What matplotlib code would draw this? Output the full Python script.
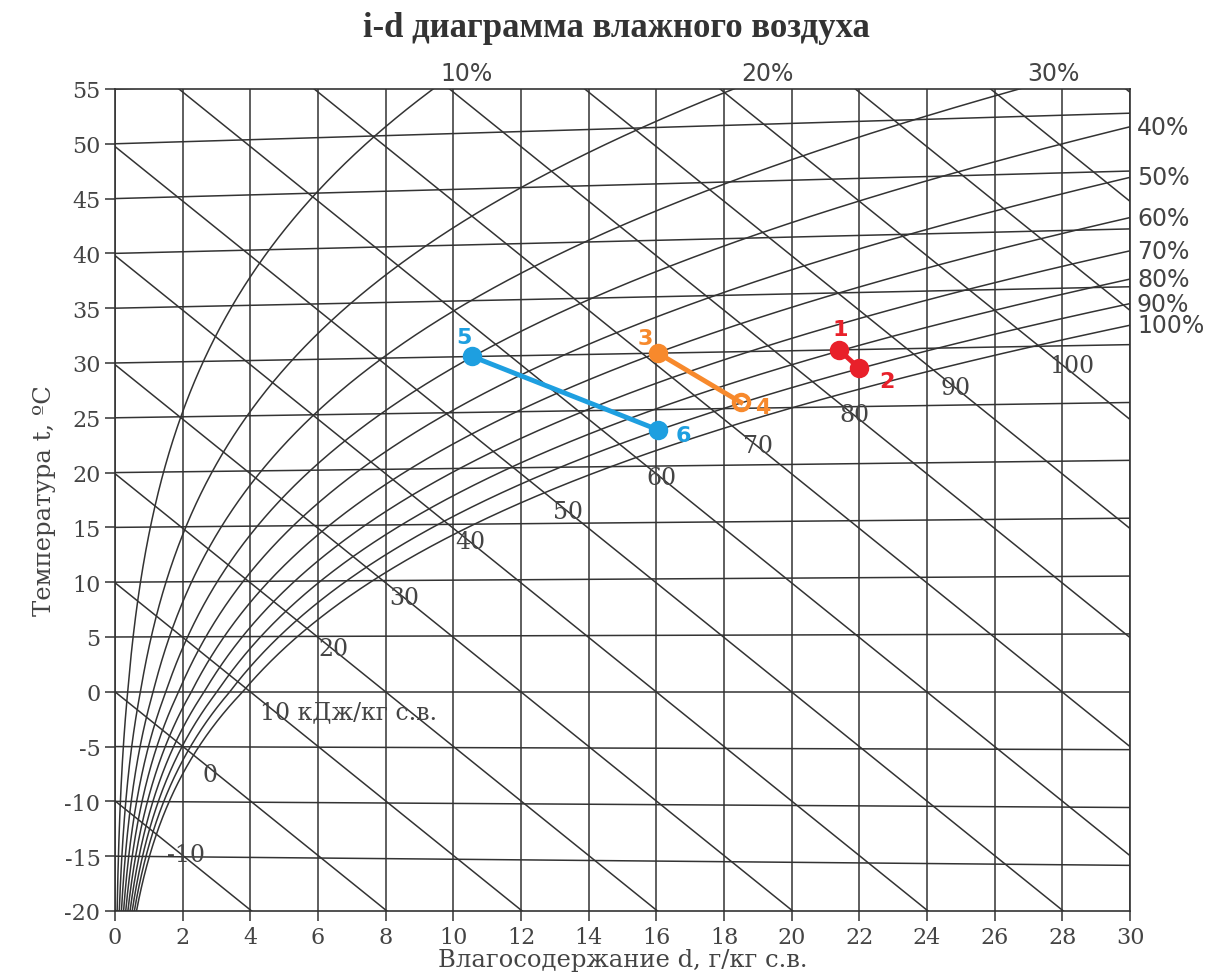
import numpy as np
import matplotlib
matplotlib.use('Agg')
import matplotlib.pyplot as plt

# Линии диаграммы
phi_levels = [10, 20, 30, 40, 50, 60, 70, 80, 90, 100]   # отн. влажность, %
i_levels = list(range(-20, 140, 10))                     # энтальпия, кДж/кг с.в.
t_levels = list(range(-20, 60, 5))                       # изотермы, °C
i_label_values = ['-10', '0', '10 кДж/кг с.в.', '20', '30', '40', '50', '60', '70', '80', '90', '100']
i_label_i = [-10, 0, 10, 20, 30, 40, 50, 60, 70, 80, 90, 100]
i_label_d = [1.55, 2.6, 4.3, 6.0, 8.1, 10.05, 12.95, 15.7, 18.55, 21.4, 24.4, 27.6]

# Точки процесса
point_names = ['1', '2', '3', '4', '5', '6']
point_d = [21.4, 22.0, 16.05, 18.5, 10.55, 16.05]
point_t = [31.2, 29.5, 30.9, 26.4, 30.6, 23.9]
point_colors = ['#e8202a', '#e8202a', '#f7892c', '#f7892c', '#1e9fe0', '#1e9fe0']
label_off = [(1, 15), (20, -9), (-9, 11), (16, -3), (-6, 14), (18, -4)]

P = 101.325  # барометрическое давление, кПа


def p_sat(t):
    # давление насыщения (над водой / надо льдом), кПа
    t = np.asarray(t, dtype=float)
    water = 0.61094 * np.exp(17.625 * t / (t + 243.04))
    ice = 0.61115 * np.exp(22.452 * t / (272.55 + t))
    return np.where(t >= 0, water, ice)


def y_coord(t, d):
    # косоугольная ось: изотермы слегка расходятся
    return t * (1 + 0.00187 * d / 1.005)


plt.rcParams['font.family'] = 'DejaVu Serif'
plt.rcParams['axes.unicode_minus'] = False
fig = plt.figure(figsize=(12.13, 9.78), dpi=100)
ax = fig.add_axes([0.0948, 0.0675, 0.8368, 0.8405])

line_kw = dict(color='#333333', lw=1.1, zorder=1)
d = np.linspace(0, 30, 400)

# вертикали d = const
for dv in range(0, 31, 2):
    ax.plot([dv, dv], [-20, 55], **line_kw)

# изотермы
for t in t_levels:
    ax.plot(d, y_coord(t, d), **line_kw)

# линии i = const
for i in i_levels:
    ax.plot(d, (i - 2.501 * d) / 1.005, **line_kw)

# линии phi = const
tt = np.linspace(-20, 70, 2000)
for phi in phi_levels:
    ps = phi / 100 * p_sat(tt)
    dd = 622 * ps / (P - ps)
    yy = y_coord(tt, dd)
    ok = dd < 32
    ax.plot(dd[ok], yy[ok], **line_kw)
    if phi <= 30:
        dtop = np.interp(55, yy, dd)
        ax.annotate(f'{phi}%', (dtop + 1.0, 55), xytext=(0, 3), textcoords='offset points',
                    ha='center', va='bottom', fontsize=17, color='#444444',
                    family='DejaVu Sans', annotation_clip=False)
    else:
        yr = np.interp(30, dd, yy)
        ax.annotate(f'{phi}%', (30, yr), xytext=(5, 0), textcoords='offset points',
                    ha='left', va='center', fontsize=17, color='#444444',
                    family='DejaVu Sans', annotation_clip=False)

# подписи энтальпии
for lab, i, dl in zip(i_label_values, i_label_i, i_label_d):
    ax.text(dl, (i - 2.501 * dl) / 1.005, lab, ha='left', va='top',
            fontsize=17, color='#444444', zorder=2)

# процессы
for k in range(0, 6, 2):
    ax.plot(point_d[k:k + 2], point_t[k:k + 2], color=point_colors[k], lw=3.5, zorder=3)
for k in range(6):
    mfc = 'none' if point_names[k] == '4' else point_colors[k]
    ax.plot(point_d[k], point_t[k], 'o', ms=11, mew=3, mec=point_colors[k], mfc=mfc, zorder=4)
    ax.annotate(point_names[k], (point_d[k], point_t[k]), xytext=label_off[k],
                textcoords='offset points', ha='center', va='center', fontsize=16,
                fontweight='bold', family='DejaVu Sans', color=point_colors[k], zorder=5)

ax.set_xlim(0, 30)
ax.set_ylim(-20, 55)
ax.set_xticks(range(0, 31, 2))
ax.set_yticks(range(-20, 56, 5))
ax.tick_params(direction='out', length=7, width=1.1, color='#333333',
               labelsize=16, labelcolor='#444444')
for s in ax.spines.values():
    s.set_color('#333333')
    s.set_linewidth(1.2)

ax.set_xlabel('Влагосодержание d, г/кг с.в.', fontsize=17.5, color='#444444', labelpad=0)
ax.set_ylabel('Температура t, ºC', fontsize=17.5, color='#444444', labelpad=6)
fig.text(0.508, 0.971, 'i-d диаграмма влажного воздуха', ha='center', va='center',
         fontsize=25, fontweight='bold', family='Liberation Serif', color='#333333')

fig.savefig('out.png', dpi=100)
